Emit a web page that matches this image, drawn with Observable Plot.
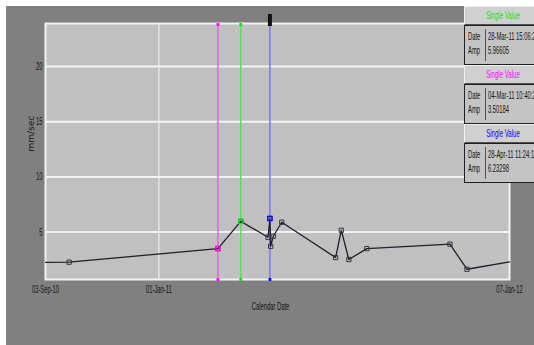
<!DOCTYPE html>
<html><head><meta charset="utf-8">
<script src="https://cdn.jsdelivr.net/npm/d3@7"></script>
<script src="https://cdn.jsdelivr.net/npm/@observablehq/plot@0.6"></script>
<style>
html,body{margin:0;padding:0;background:#fff;}
#wrap{position:relative;width:534px;height:345px;overflow:hidden;background:#fff;}
#chart{position:absolute;left:6px;top:6px;}
.grp{position:absolute;left:464px;width:84px;font-family:"Liberation Sans",Arial,sans-serif;font-size:11px;}
.hd{box-sizing:border-box;height:19px;background:#d0d0d0;border:1px solid #505050;border-top-color:#f0f0f0;border-left-color:#f0f0f0;position:relative;}
.hd span{position:absolute;left:38px;top:2px;white-space:nowrap;transform:translateX(-50%) scaleX(0.55);}
.bd{box-sizing:border-box;height:40px;background:#c4c4c4;border:1px solid #202020;position:relative;color:#141414;}
.bd span{position:absolute;white-space:nowrap;transform:scaleX(0.53);transform-origin:0 50%;}
.bd .dv{position:absolute;left:20px;top:3px;bottom:3px;width:1px;background:#505050;}
</style></head>
<body>
<div id="wrap"><div id="chart"></div></div>
<script>
// ---- data ----
const pointDates = ["2010-09-03T00:00:00Z","2010-09-28T00:00:00Z","2011-03-04T10:40:25Z","2011-03-28T15:06:22Z","2011-04-26T12:00:00Z","2011-04-28T11:24:18Z","2011-04-29T06:00:00Z","2011-05-02T00:00:00Z","2011-05-11T00:00:00Z","2011-07-07T00:00:00Z","2011-07-13T00:00:00Z","2011-07-21T00:00:00Z","2011-08-09T00:00:00Z","2011-11-05T00:00:00Z","2011-11-23T00:00:00Z","2012-01-07T00:00:00Z"];
const pointAmps = [2.26, 2.27, 3.50184, 5.96605, 4.53, 6.23298, 3.71, 4.62, 5.89, 2.69, 5.16, 2.51, 3.50, 3.90, 1.63, 2.29];
const pointMarked = [false, true, true, true, true, true, true, true, true, true, true, true, true, true, true, false];

const cursorTitles = ["Single Value", "Single Value", "Single Value"];
const cursorDates = ["2011-03-28T15:06:22Z", "2011-03-04T10:40:25Z", "2011-04-28T11:24:18Z"];
const cursorDateLabels = ["28-Mar-11 15:06:22", "04-Mar-11 10:40:25", "28-Apr-11 11:24:18"];
const cursorAmps = [5.96605, 3.50184, 6.23298];
const cursorTextColors = ["#10e010", "#ff00ff", "#0000ff"];
const cursorRuleColors = ["#5ae05a", "#e066e0", "#7a7ae8"];
const cursorHandle = [false, false, true];

const xDomain = ["2010-09-03T00:00:00Z", "2012-01-07T00:00:00Z"];
const yDomain = [0.7, 23.9];
const yTicks = [5, 10, 15, 20];
const xTicks = ["2010-09-03T00:00:00Z", "2011-01-01T00:00:00Z", "2012-01-07T00:00:00Z"];
const xGrid = ["2011-01-01T00:00:00Z"];
const yLabel = "mm/sec";
const xLabel = "Calendar Date";

// ---- build ----
const series = pointDates.map((d, i) => ({date: new Date(d), amp: pointAmps[i], marked: pointMarked[i]}));
const cursors = cursorDates.map((d, i) => ({date: new Date(d), amp: cursorAmps[i], rule: cursorRuleColors[i], text: cursorTextColors[i], handle: cursorHandle[i]}));

const chart = Plot.plot({
  width: 528, height: 339,
  marginLeft: 39, marginRight: 25, marginTop: 17, marginBottom: 66,
  style: {background: "#808080", fontFamily: '"Liberation Sans", Arial, sans-serif', fontSize: "11px", color: "#141414"},
  x: {type: "utc", domain: xDomain.map(d => new Date(d))},
  y: {domain: yDomain},
  color: {type: "identity"},
  marks: [
    Plot.frame({fill: "#c0c0c0"}),
    Plot.ruleX(xGrid.map(d => new Date(d)), {stroke: "#e4e4e4", strokeWidth: 1.5}),
    Plot.ruleY(yTicks, {stroke: "#f2f2f2", strokeWidth: 2}),
    Plot.frame({stroke: "#f2f2f2", strokeWidth: 2}),
    Plot.axisX({ticks: xTicks.map(d => new Date(d)), tickFormat: d3.utcFormat("%d-%b-%y"), tickSize: 0, tickPadding: 6, label: null}),
    Plot.axisY({ticks: yTicks, tickSize: 0, tickPadding: 3, label: null}),
    Plot.text([yLabel], {text: d => d, frameAnchor: "left", dx: -14, rotate: -90, fontFamily: "DejaVu Sans, sans-serif", fontSize: 9, fill: "#141414"}),
    Plot.text([xLabel], {text: d => d, frameAnchor: "bottom", dy: 30, dx: -7, fill: "#141414"}),
    Plot.ruleX(cursors, {x: "date", stroke: "rule", strokeWidth: 1.5}),
    Plot.line(series, {x: "date", y: "amp", stroke: "#241c2a", strokeWidth: 1.3}),
    Plot.dot(series.filter(d => d.marked), {x: "date", y: "amp", symbol: "square", r: 2.4, stroke: "#3a3040", fill: "none", strokeWidth: 1}),
    Plot.dot(cursors, {x: "date", y: "amp", symbol: "square", r: 2.4, stroke: "text", fill: "none", strokeWidth: 1.2}),
    Plot.dot(cursors, {x: "date", frameAnchor: "bottom", symbol: "square", r: 1.6, fill: "text"}),
    Plot.dot(cursors.filter(d => !d.handle), {x: "date", frameAnchor: "top", dy: 1, symbol: "square", r: 1.6, fill: "text"}),
    Plot.ruleX(cursors.filter(d => d.handle), {x: "date", stroke: "#111", strokeWidth: 4, insetTop: -9, insetBottom: 253})
  ]
});
document.getElementById("chart").appendChild(chart);

// condensed look of the original narrow UI font
chart.querySelectorAll("text").forEach(t => {
  if (t.textContent === yLabel) return;
  const L = t.getComputedTextLength();
  t.setAttribute("textLength", (L * 0.53).toFixed(1));
  t.setAttribute("lengthAdjust", "spacingAndGlyphs");
});

// ---- legend (cursor value boxes) ----
const wrap = document.getElementById("wrap");
const tops = [6, 65, 124];
cursorTitles.forEach((t, i) => {
  const g = document.createElement("div");
  g.className = "grp";
  g.style.top = tops[i] + "px";
  g.innerHTML = `<div class="hd"><span style="color:${cursorTextColors[i]}">${t}</span></div>
    <div class="bd"><span style="left:3px;top:4px">Date</span><span style="left:3px;top:18px">Amp</span>
    <div class="dv"></div>
    <span style="left:23px;top:4px">${cursorDateLabels[i]}</span><span style="left:23px;top:18px">${cursorAmps[i].toFixed(5)}</span></div>`;
  wrap.appendChild(g);
});
</script>
</body></html>
